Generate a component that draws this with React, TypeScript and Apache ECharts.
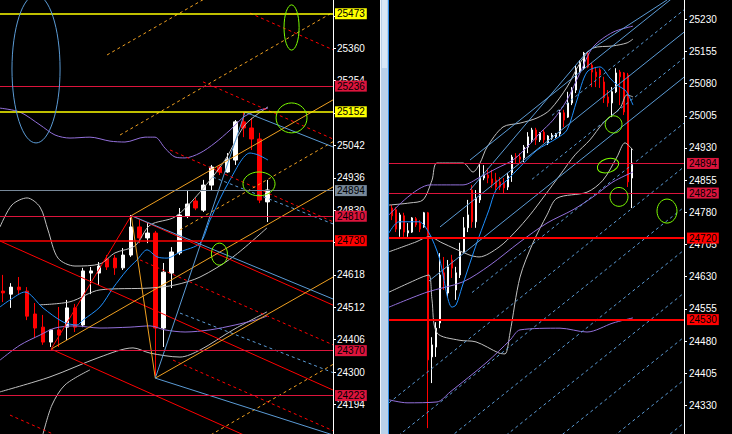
import React, { useEffect, useRef } from 'react';
import * as echarts from 'echarts';

// ---------- LEFT PANEL (higher timeframe) ----------
// candles: [open, close, low, high], x = candle index
const LEFT_CANDLES = [
  [24565, 24559, 24529, 24618], [24555, 24578, 24510, 24591], [24578, 24569, 24552, 24611],
  [24565, 24483, 24470, 24578], [24490, 24444, 24411, 24526], [24447, 24398, 24389, 24487],
  [24398, 24438, 24382, 24441], [24438, 24421, 24382, 24513], [24447, 24510, 24405, 24536],
  [24510, 24447, 24431, 24523], [24454, 24631, 24447, 24641], [24624, 24631, 24555, 24644],
  [24624, 24647, 24585, 24660], [24670, 24644, 24634, 24683], [24673, 24641, 24618, 24683],
  [24641, 24683, 24634, 24706], [24683, 24775, 24677, 24814], [24775, 24739, 24722, 24798],
  [24739, 24755, 24722, 24788], [24755, 24444, 24287, 24762], [24444, 24627, 24382, 24657],
  [24624, 24693, 24575, 24709], [24690, 24814, 24683, 24837], [24811, 24850, 24804, 24896],
  [24860, 24837, 24830, 24870], [24830, 24912, 24824, 24929], [24912, 24971, 24896, 24978],
  [24971, 24955, 24945, 24978], [24955, 24997, 24952, 25017], [24994, 25119, 24978, 25125],
  [25119, 25099, 25069, 25151], [25099, 25063, 25027, 25132], [25063, 24863, 24853, 25083],
  [24857, 24896, 24791, 24929],
];
const LEFT_TICKS = [24194, 24300, 24406, 24512, 24618, 24724, 24830, 24936, 25042, 25148, 25254, 25360, 25466];
// tick labels that are not fully covered by the level tags
const LEFT_TICK_LABELS = [24194, 24300, 24406, 24512, 24618, 24830, 24936, 25042, 25254, 25360];
const LEFT_LEVELS = [25473, 25236, 25152, 24894, 24810, 24730, 24370, 24223];

const LEFT_MA_BLUE = [[-0.374, 24513], [0.87, 24536], [2.74, 24562], [4.99, 24510], [7.49, 24464], [9.23, 24454], [9.98, 24470], [12.1, 24513], [13.72, 24575], [15.47, 24634], [16.72, 24667], [17.97, 24700], [19.21, 24677], [20.46, 24673], [22.08, 24693], [24.58, 24722], [25.83, 24798], [28.32, 24929], [30.82, 25017], [31.81, 25011], [33.06, 24994]];
const LEFT_PURPLE_UP = [[-0.374, 25164], [2.12, 25151], [4.62, 25109], [6.49, 25076], [8.36, 25066], [10.85, 25069], [13.35, 25056], [15.22, 25053], [17.72, 25069], [18.96, 25069], [20.21, 25033], [21.46, 25004], [22.71, 25001], [24.58, 25017], [26.45, 25050], [28.32, 25092], [30.19, 25138], [32.06, 25158], [33.06, 25164]];
const LEFT_PURPLE_LOW = [[-0.374, 24339], [2.12, 24388], [4.62, 24421], [6.49, 24444], [8.98, 24451], [12.1, 24444], [15.85, 24447], [18.34, 24451], [20.21, 24438], [22.71, 24431], [25.83, 24438], [28.95, 24454], [31.44, 24470], [32.94, 24483]];
const LEFT_GREY_UP = [[-0.374, 24775], [1.12, 24847], [3.0, 24870], [4.62, 24840], [5.61, 24765], [6.86, 24673], [8.98, 24647], [12.1, 24654], [13.97, 24690], [16.47, 24713], [18.34, 24781], [21.46, 24808], [24.58, 24889], [27.7, 24994], [30.19, 25109], [33.06, 25168]];
const LEFT_GREY_MID = [[4.62, 24520], [8.36, 24530], [12.1, 24569], [18.34, 24575], [21.46, 24585], [24.58, 24611], [28.7, 24677], [32.94, 24772]];
const LEFT_GREY_LOW = [[-0.374, 24235], [5.86, 24284], [12.1, 24349], [16.22, 24379], [18.34, 24362], [22.08, 24349], [24.58, 24372], [28.7, 24438], [32.94, 24497]];
const LEFT_GREY_LOW2 = [[4.99, 24097], [6.11, 24192], [7.74, 24258], [10.85, 24307]];

const LEFT_ZIGZAG_RED = [[[6, 24375], [16, 24812]]];
const LEFT_ZIGZAG_ORANGE = [[[16, 24812], [19, 24280]]];
const LEFT_ZIGZAG_BLUE = [[[19, 24280], [30.2, 25151]]];
const LEFT_RED_SOLID = [
  [[16, 24812], [41.17, 24519]],
  [[-0.374, 24729], [41.17, 24241]],
  [[6, 24375], [41.17, 23964]],
];
const LEFT_RED_DASHED = [
  [[30.82, 25475], [41.17, 25355]],
  [[24.95, 25250], [41.17, 25063]],
  [[20.84, 25027], [41.17, 24792]],
  [[17.09, 24667], [41.17, 24389]],
  [[21.21, 24339], [41.17, 24108]],
  [[0.87, 24159], [41.17, 23694]],
];
const LEFT_BLUE_SOLID = [
  [[16, 24812], [41.17, 24539]],
  [[19, 24280], [41.17, 24094]],
  [[30.2, 25151], [41.17, 25037]],
];
const LEFT_BLUE_DASHED = [
  [[26.2, 24938], [41.17, 24785]],
  [[22.08, 24493], [41.17, 24298]],
];
const LEFT_ORANGE_SOLID = [
  [[16, 24812], [41.17, 25191]],
  [[6, 24375], [41.17, 24906]],
  [[19, 24280], [41.17, 24611]],
];
const LEFT_ORANGE_DASHED = [
  [[12.98, 25338], [41.17, 25764]],
  [[14.6, 25076], [41.17, 25478]],
  [[22.08, 24765], [41.17, 25054]],
  [[23.33, 24055], [41.17, 24325]],
];
// ellipses: [x, value, half-width (candles), half-height (points)]
const LEFT_BLUE_ELLIPSES = [[4.12, 25292, 3.0, 242]];
const LEFT_GREEN_ELLIPSES = [[36.0, 25428, 0.94, 74], [36.0, 25132, 1.93, 49], [31.94, 24916, 2.0, 39], [27.0, 24686, 1.0, 36]];

// ---------- RIGHT PANEL (lower timeframe) ----------
const RIGHT_CANDLES = [
  [24790, 24772, 24762, 24797], [24786, 24741, 24734, 24792], [24741, 24774, 24723, 24779],
  [24772, 24734, 24723, 24779], [24732, 24737, 24723, 24755], [24734, 24767, 24732, 24769],
  [24765, 24751, 24746, 24769], [24755, 24741, 24734, 24762], [24746, 24779, 24744, 24781],
  [24779, 24436, 24277, 24781], [24443, 24471, 24382, 24489], [24466, 24510, 24443, 24524],
  [24522, 24634, 24510, 24685], [24639, 24622, 24599, 24676], [24592, 24653, 24583, 24669],
  [24669, 24650, 24627, 24681], [24599, 24639, 24576, 24653], [24634, 24688, 24627, 24709],
  [24688, 24744, 24685, 24769], [24744, 24774, 24734, 24809], [24832, 24758, 24744, 24844],
  [24758, 24813, 24744, 24832], [24809, 24862, 24802, 24895], [24860, 24867, 24855, 24890],
  [24867, 24860, 24848, 24883], [24858, 24848, 24837, 24879], [24855, 24839, 24832, 24872],
  [24851, 24839, 24832, 24862], [24848, 24837, 24825, 24860], [24839, 24865, 24832, 24872],
  [24872, 24909, 24851, 24914], [24911, 24907, 24895, 24918], [24909, 24904, 24895, 24918],
  [24907, 24932, 24897, 24937], [24932, 24956, 24918, 24967], [24949, 24972, 24942, 24977],
  [24972, 24949, 24937, 24977], [24949, 24965, 24944, 24967], [24967, 24949, 24942, 24972],
  [24942, 24958, 24937, 24960], [24953, 24960, 24949, 24965], [24956, 24963, 24953, 24965],
  [24963, 25012, 24956, 25019], [25012, 24995, 24979, 25019], [25002, 25035, 25000, 25061],
  [25035, 25065, 25030, 25072], [25065, 25116, 25058, 25123], [25107, 25128, 25105, 25135],
  [25116, 25151, 25112, 25154], [25151, 25119, 25116, 25154], [25123, 25107, 25072, 25128],
  [25107, 25096, 25072, 25119], [25112, 25100, 25070, 25116], [25084, 25047, 25035, 25096],
  [25049, 25035, 25026, 25065], [25035, 25061, 25002, 25072], [25061, 25105, 25058, 25116],
  [25107, 25096, 25030, 25112], [25105, 25014, 25007, 25107], [25100, 24851, 24839, 25105],
  [24860, 24895, 24790, 24930],
];
const RIGHT_TICKS = [24330, 24405, 24480, 24555, 24630, 24705, 24780, 24855, 24930, 25005, 25080, 25155, 25230];
const RIGHT_TICK_LABELS = RIGHT_TICKS;
const RIGHT_LEVELS = [24894, 24825, 24720, 24530];

const RIGHT_MA_BLUE = [[-0.75, 24732], [1.75, 24758], [6.75, 24758], [9.25, 24732], [11.75, 24676], [15, 24559], [16, 24564], [17.5, 24606], [20, 24676], [21.75, 24723], [24.25, 24786], [26, 24832], [28.75, 24855], [32, 24886], [36.25, 24925], [41.25, 24953], [43.75, 24972], [46.25, 25042], [48.75, 25107], [52, 25119], [54.5, 25093], [56.25, 25077], [58.25, 25065], [59.25, 25051], [60.25, 25030]];
const RIGHT_GREY_UP = [[-0.75, 24797], [4.5, 24802], [7.75, 24809], [10, 24855], [11.25, 24895], [17.75, 24895], [20.25, 24874], [22, 24895], [23.75, 24932], [27.75, 24979], [32, 24988], [36.25, 25000], [39.5, 25019], [43.75, 25072], [47, 25128], [50.25, 25163], [55.25, 25168], [58.75, 25175], [60.25, 25184]];
const RIGHT_GREY_MID = [[-0.75, 24688], [6, 24711], [9.25, 24723], [12.5, 24709], [19.25, 24681], [21.75, 24676], [26.75, 24699], [30.75, 24734], [34.5, 24774], [38.25, 24820], [42, 24867], [45.75, 24914], [49.5, 24949], [52.75, 24988], [57, 25023], [58.75, 25054], [60.25, 25049]];
const RIGHT_GREY_LOW = [[-0.75, 24594], [7.5, 24629], [9.25, 24634], [10, 24576], [11.25, 24499], [16.75, 24482], [21, 24478], [26.75, 24452], [28.25, 24450], [29.5, 24499], [32, 24629], [35.25, 24709], [38.75, 24774], [41.25, 24813], [48.75, 24827], [52.75, 24855], [56.25, 24909], [58.25, 24942], [60.25, 24925]];
const RIGHT_PURPLE_UP = [[-0.75, 24774], [9.5, 24844], [17.75, 24844], [22, 24862], [26.25, 24883], [30.25, 24902], [33.75, 24932], [37, 24965], [40.25, 24995], [43.75, 25042], [47, 25105], [50.25, 25165], [55.25, 25200], [60.25, 25214]];
const RIGHT_PURPLE_MID = [[-0.75, 24559], [8.75, 24594], [17.75, 24618], [24.5, 24657], [32, 24711], [38.75, 24755], [45.25, 24786], [50.25, 24816], [55.25, 24851], [60.25, 24874]];
const RIGHT_PURPLE_LOW = [[-0.75, 24343], [3.75, 24336], [11.25, 24338], [14.5, 24361], [23.75, 24431], [29.5, 24482], [32, 24506], [42, 24510], [48.75, 24501], [55.25, 24522], [60.25, 24534]];

const RIGHT_BLUE_SOLID = [
  [[19.5, 24902], [73, 25301]],
  [[12, 24746], [73, 25200]],
  [[9.25, 24620], [73, 25095]],
  [[19.5, 24832], [48.75, 25154]],
  [[48.75, 25154], [68.75, 25275]],
];
const RIGHT_BLUE_DASHED = [
  [[40, 25006], [73, 25252]],
  [[35, 24857], [73, 25140]],
  [[20, 24593], [73, 24988]],
  [[-0.75, 24336], [73, 24886]],
  [[-0.75, 24242], [73, 24792]],
  [[-0.75, 24142], [73, 24692]],
  [[-0.75, 24042], [73, 24592]],
  [[-0.75, 23939], [73, 24489]],
  [[-0.75, 23839], [73, 24389]],
  [[-0.75, 23739], [73, 24289]],
];
const RIGHT_GREEN_ELLIPSES = [[55.4, 24985, 2.1, 20], [54, 24889, 2.75, 16], [56.75, 24816, 2.25, 22], [68.75, 24783, 2.5, 28]];

// ---------- styles ----------
const FONT = 'Liberation Sans';
const C_RED = '#ff0000';
const C_CRIMSON = '#dc143c';
const C_YELLOW = '#ffff00';
const C_SLATE = '#778899';
const C_ORANGE = '#f0a020';
const C_STEEL_D = '#5b9bd5';
const C_DODGER = '#1e90ff';
const C_PURPLE = '#9370db';
const C_GREY = '#c0c0c0';
const C_GREEN = '#7cfc00';
const LEFT_LEVEL_COLORS = [C_YELLOW, C_CRIMSON, C_YELLOW, C_SLATE, C_CRIMSON, C_RED, C_CRIMSON, C_CRIMSON];
const LEFT_LEVEL_WIDTHS = [1.5, 1.2, 1.5, 1.2, 1.2, 1.6, 1.2, 1.2];
const RIGHT_LEVEL_COLORS = [C_CRIMSON, C_CRIMSON, C_RED, C_RED];
const RIGHT_LEVEL_WIDTHS = [1.2, 1.2, 1.8, 1.8];
const RIGHT_ELLIPSE_TILT = [0, 0.3, 0, 0];

const GRID_L = { left: 0, top: 0, width: 333, height: 434 };
const GRID_R = { left: 389, top: 0, width: 295, height: 434 };

function lineSeries(gi: number, pts: any[], color: string, dashed: boolean, width = 1, smooth: number | boolean = false) {
  return {
    type: 'line', xAxisIndex: gi, yAxisIndex: gi, data: pts, symbol: 'none', showSymbol: false,
    silent: true, clip: true, smooth, z: 3,
    lineStyle: { color, width, type: dashed ? [3, 3] : 'solid' },
  };
}

function segs(gi: number, list: any[], color: string, dashed: boolean) {
  return list.map((p) => lineSeries(gi, p, color, dashed, 1));
}

function candleSeries(gi: number, candles: number[][], w: number) {
  return {
    type: 'candlestick', xAxisIndex: gi, yAxisIndex: gi, silent: true, z: 2,
    barWidth: w,
    data: candles.map((c, i) => [i, c[0], c[1], c[2], c[3]]),
    itemStyle: { color: '#ffffff', color0: '#ff0000', borderColor: '#ffffff', borderColor0: '#ff0000', borderWidth: 1 },
  };
}

function levelSeries(gi: number, levels: number[], colors: string[], widths: number[], dist: number) {
  return {
    type: 'line', xAxisIndex: gi, yAxisIndex: gi, data: [], silent: true, z: 6, symbol: 'none',
    markLine: {
      symbol: ['none', 'none'], silent: true, animation: false, precision: 0,
      data: levels.map((v, i) => ({
        yAxis: v,
        lineStyle: { color: colors[i], width: widths[i], type: 'solid' },
        label: {
          show: true, position: 'end', formatter: String(v), backgroundColor: colors[i], color: '#000000',
          fontFamily: FONT, fontSize: 10, lineHeight: 10, padding: [1, 2, 0, 2], distance: dist,
        },
      })),
    },
  };
}

function ellipseSeries(gi: number, items: number[][], color: string, tilt?: number[]) {
  return {
    type: 'custom', xAxisIndex: gi, yAxisIndex: gi, silent: true, z: 7, clip: false,
    data: items,
    renderItem: (params: any, api: any) => {
      const c = api.coord([api.value(0), api.value(1)]);
      const s = api.size([api.value(2), api.value(3)]);
      return {
        type: 'ellipse', x: c[0], y: c[1], rotation: tilt ? tilt[params.dataIndex] : 0,
        shape: { cx: 0, cy: 0, rx: s[0], ry: s[1] },
        style: { fill: 'none', stroke: color, lineWidth: 1 },
      };
    },
  };
}

function yAxisCfg(gi: number, min: number, max: number, ticks: number[], labels: number[], margin: number) {
  return {
    gridIndex: gi, type: 'value', position: 'right', min, max,
    axisLine: { show: true, onZero: false, lineStyle: { color: '#ffffff', width: 1 } },
    axisTick: { show: true, length: 3, customValues: ticks, lineStyle: { color: '#ffffff' } },
    axisLabel: { show: true, customValues: labels, color: '#ffffff', fontFamily: FONT, fontSize: 10, margin, formatter: (v: number) => String(v) },
    splitLine: { show: false },
  };
}

function buildOption() {
  const series: any[] = [];
  // left
  series.push(candleSeries(0, LEFT_CANDLES, 4));
  series.push(lineSeries(0, LEFT_GREY_UP, C_GREY, false, 1, 0.3));
  series.push(lineSeries(0, LEFT_GREY_MID, C_GREY, false, 1, 0.3));
  series.push(lineSeries(0, LEFT_GREY_LOW, C_GREY, false, 1, 0.3));
  series.push(lineSeries(0, LEFT_GREY_LOW2, C_GREY, false, 1, 0.3));
  series.push(lineSeries(0, LEFT_PURPLE_UP, C_PURPLE, false, 1, 0.3));
  series.push(lineSeries(0, LEFT_PURPLE_LOW, C_PURPLE, false, 1, 0.3));
  series.push(lineSeries(0, LEFT_MA_BLUE, C_DODGER, false, 1, 0.3));
  series.push(...segs(0, LEFT_RED_DASHED, C_RED, true));
  series.push(...segs(0, LEFT_ORANGE_DASHED, C_ORANGE, true));
  series.push(...segs(0, LEFT_BLUE_DASHED, C_STEEL_D, true));
  series.push(...segs(0, LEFT_RED_SOLID, C_RED, false));
  series.push(...segs(0, LEFT_ORANGE_SOLID, C_ORANGE, false));
  series.push(...segs(0, LEFT_BLUE_SOLID, C_STEEL_D, false));
  series.push(...segs(0, LEFT_ZIGZAG_RED, C_RED, false));
  series.push(...segs(0, LEFT_ZIGZAG_ORANGE, C_ORANGE, false));
  series.push(...segs(0, LEFT_ZIGZAG_BLUE, C_STEEL_D, false));
  series.push(levelSeries(0, LEFT_LEVELS, LEFT_LEVEL_COLORS, LEFT_LEVEL_WIDTHS, 2));
  series.push(ellipseSeries(0, LEFT_BLUE_ELLIPSES, C_STEEL_D));
  series.push(ellipseSeries(0, LEFT_GREEN_ELLIPSES, C_GREEN));
  // right
  series.push(candleSeries(1, RIGHT_CANDLES, 2));
  series.push(lineSeries(1, RIGHT_GREY_UP, C_GREY, false, 1, 0.3));
  series.push(lineSeries(1, RIGHT_GREY_MID, C_GREY, false, 1, 0.3));
  series.push(lineSeries(1, RIGHT_GREY_LOW, C_GREY, false, 1, 0.3));
  series.push(lineSeries(1, RIGHT_PURPLE_UP, C_PURPLE, false, 1, 0.3));
  series.push(lineSeries(1, RIGHT_PURPLE_MID, C_PURPLE, false, 1, 0.3));
  series.push(lineSeries(1, RIGHT_PURPLE_LOW, C_PURPLE, false, 1, 0.3));
  series.push(lineSeries(1, RIGHT_MA_BLUE, C_DODGER, false, 1, 0.3));
  series.push(...segs(1, RIGHT_BLUE_DASHED, C_STEEL_D, true));
  series.push(...segs(1, RIGHT_BLUE_SOLID, C_STEEL_D, false));
  series.push(levelSeries(1, RIGHT_LEVELS, RIGHT_LEVEL_COLORS, RIGHT_LEVEL_WIDTHS, 3));
  series.push(ellipseSeries(1, RIGHT_GREEN_ELLIPSES, C_GREEN, RIGHT_ELLIPSE_TILT));

  return {
    animation: false,
    backgroundColor: '#000000',
    grid: [GRID_L, GRID_R],
    xAxis: [
      { gridIndex: 0, type: 'value', min: -0.374, max: 41.17, show: false },
      { gridIndex: 1, type: 'value', min: -0.75, max: 73, show: false },
    ],
    yAxis: [
      yAxisCfg(0, 24097.1, 25518, LEFT_TICKS, LEFT_TICK_LABELS, 4),
      yAxisCfg(1, 24263.3, 25275, RIGHT_TICKS, RIGHT_TICK_LABELS, 5),
    ],
    graphic: [
      { type: 'rect', shape: { x: 380, y: 0, width: 9, height: 434 }, style: { fill: '#b9d1ea' }, silent: true },
      { type: 'rect', shape: { x: 380, y: 0, width: 1, height: 434 }, style: { fill: '#eef3f8' }, silent: true },
      { type: 'rect', shape: { x: 382, y: 0, width: 5, height: 68 }, style: { fill: '#d8e7f6' }, silent: true },
      { type: 'rect', shape: { x: 388, y: 0, width: 1, height: 434 }, style: { fill: '#2f8fe8' }, silent: true },
    ],
    series,
  };
}

export default function App() {
  const ref = useRef<HTMLDivElement>(null);
  useEffect(() => {
    document.body.style.margin = '0';
    document.body.style.background = '#000';
    const chart = echarts.init(ref.current as HTMLDivElement, null, { renderer: 'svg' });
    chart.setOption(buildOption() as any);
    return () => chart.dispose();
  }, []);
  return <div ref={ref} style={{ width: 732, height: 434 }} />;
}
